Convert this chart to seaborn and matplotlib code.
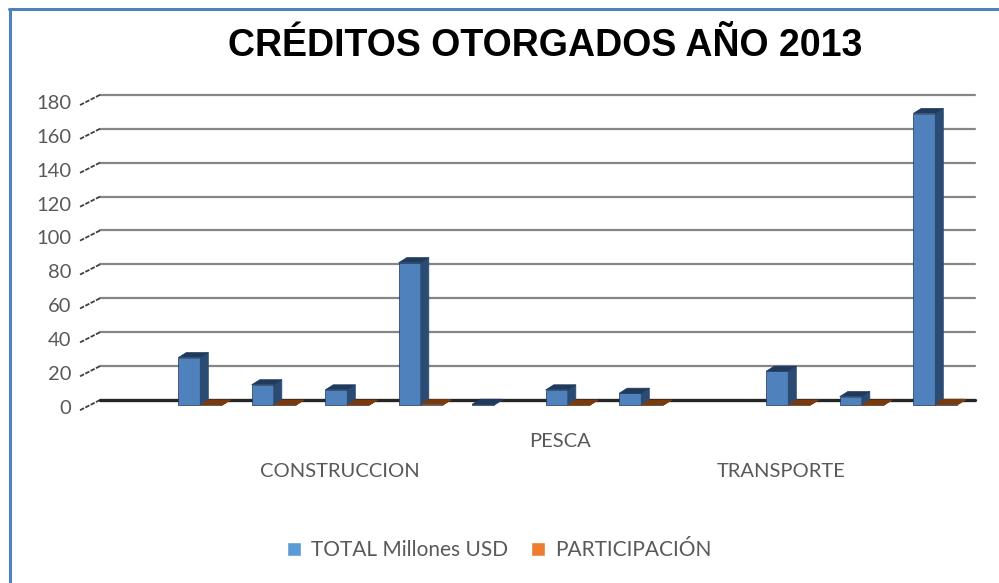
import matplotlib
matplotlib.use('Agg')
import matplotlib.pyplot as plt
import seaborn as sns
import pandas as pd
import numpy as np
from matplotlib.patches import Polygon, Patch
from matplotlib.lines import Line2D

# datos (12 sectores, solo 3 con nombre visible)
etiquetas = ['', '', '', 'CONSTRUCCION', '', '', 'PESCA', '', '', 'TRANSPORTE', '', '']
total_usd = [np.nan, 28, 12, 9, 84, 0.5, 9, 7, np.nan, 20, 5, 172]
participacion = [np.nan, 0.08, 0.035, 0.026, 0.24, np.nan, 0.026, 0.02, np.nan, 0.058, 0.014, 0.5]
series = ['TOTAL Millones USD', 'PARTICIPACIÓN']
yticks = [0, 20, 40, 60, 80, 100, 120, 140, 160, 180]

claves = [f'sector_{i}' for i in range(len(etiquetas))]
df = pd.DataFrame({
    'sector': claves * 2,
    'serie': [series[0]] * len(claves) + [series[1]] * len(claves),
    'valor': total_usd + participacion,
})

azul, azul_lado, azul_tope = '#4f81bd', '#2b4b72', '#1f3a5d'
naranja, naranja_lado, naranja_tope = '#e46c0a', '#8a4510', '#7a3a0e'
texto = '#595959'

sns.set_style('white')
plt.rcParams['font.family'] = ['Lato', 'DejaVu Sans']

fig = plt.figure(figsize=(9.99, 5.83), dpi=100)
ax = fig.add_axes([90 / 999, 0.3022, 882 / 999, 0.538])

sns.barplot(data=df, x='sector', y='valor', hue='serie', order=claves, hue_order=series,
            palette=[azul, naranja], width=0.6, saturation=1, errorbar=None, legend=False,
            edgecolor='#1c3557', linewidth=0.5, ax=ax)

# efecto 3D tipo Excel
dx, dy = 0.11, 3.0
colores = [(azul_lado, azul_tope, 3), (naranja_lado, naranja_tope, 4)]
for cont, (c_lado, c_tope, z) in zip(ax.containers, colores):
    for p in cont.patches:
        h = p.get_height()
        if not np.isfinite(h):
            continue
        x, w = p.get_x(), p.get_width()
        p.set_y(-dy)
        p.set_zorder(z)
        lado = Polygon([(x + w, -dy), (x + w + dx, 0), (x + w + dx, h), (x + w, h - dy)],
                       closed=True, facecolor=c_lado, edgecolor=c_lado, lw=0.5, zorder=z)
        tope = Polygon([(x, h - dy), (x + dx, h), (x + w + dx, h), (x + w, h - dy)],
                       closed=True, facecolor=c_tope, edgecolor=c_tope, lw=0.5, zorder=z)
        ax.add_patch(lado)
        ax.add_patch(tope)

ax.set_xlim(-0.5, 11.5)
ax.set_ylim(-4, 181)
sns.despine(ax=ax, left=True, bottom=True)
ax.tick_params(length=0, labelbottom=False, labelleft=False)
ax.set_xlabel('')
ax.set_ylabel('')

tr = ax.get_yaxis_transform()
for v in yticks:
    ax.plot([0.0113, 1.003], [v, v], transform=tr, clip_on=False,
            color='#262626' if v == 0 else '#868686', lw=2.4 if v == 0 else 1.6,
            zorder=2.5 if v == 0 else 1)
    ax.plot([-0.0113, 0.0113], [v - 6, v], transform=tr, clip_on=False,
            color='#404040', lw=1.3, ls=(0, (2.5, 0.8)))
    ax.text(-0.021, v - 5, f'{v}', transform=tr, ha='right', va='center',
            fontsize=14.5, color=texto)

trx = ax.get_xaxis_transform()
for i, nombre in enumerate(etiquetas):
    if nombre:
        fila = (i // 3) % 2
        ax.text(i - 0.1, -0.111 - 0.096 * fila, nombre, transform=trx, ha='center',
                va='center', fontsize=14.5, color=texto)

fig.text(0.5455, 0.921, 'CRÉDITOS OTORGADOS AÑO 2013', ha='center', va='center',
         fontsize=27, fontweight='bold', family='Liberation Sans', color='black')

handles = [Patch(facecolor='#5b9bd5'), Patch(facecolor='#ed7d31')]
fig.legend(handles, series, loc='center', bbox_to_anchor=(0.5, 1 - 550 / 583), ncol=2,
           frameon=False, fontsize=15, handlelength=0.65, handleheight=0.65,
           handletextpad=0.5, columnspacing=1.1, labelcolor=texto)

fig.add_artist(Line2D([9.5 / 999, 9.5 / 999], [0, 1 - 9 / 583], transform=fig.transFigure,
                      color='#4f81bd', lw=2.2))
fig.add_artist(Line2D([8.5 / 999, 1], [1 - 9 / 583, 1 - 9 / 583], transform=fig.transFigure,
                      color='#4f81bd', lw=2.2))

fig.savefig('out.png', dpi=100)
